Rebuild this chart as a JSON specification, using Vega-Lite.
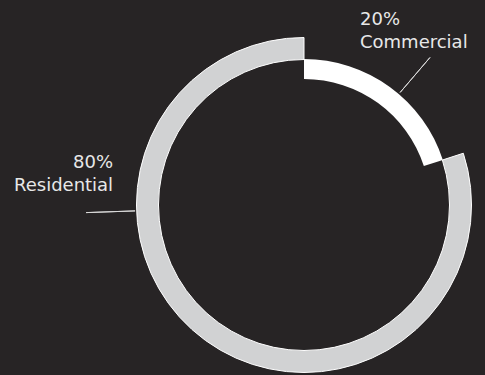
{
  "$schema": "https://vega.github.io/schema/vega-lite/v6.json",
  "width": 362,
  "height": 340,
  "autosize": "none",
  "padding": {"left": 123, "top": 35, "right": 0, "bottom": 0},
  "background": "#272425",
  "config": {"view": {"stroke": null}},
  "data": {
    "values": [
      {"segment": "Commercial", "share": 20},
      {"segment": "Residential", "share": 80}
    ]
  },
  "transform": [
    {"stack": "share", "groupby": [], "sort": [{"field": "segment", "order": "ascending"}], "as": ["v0", "v1"]},
    {"calculate": "(datum.v0 + datum.v1) / 2", "as": "mid"},
    {"calculate": "[datum.share + '%', datum.segment]", "as": "label"}
  ],
  "layer": [
    {
      "transform": [{"filter": "datum.segment === 'Residential'"}],
      "mark": {"type": "arc", "radius": 167.5, "radius2": 145.5, "fill": "#d1d2d3", "stroke": "#ffffff", "strokeWidth": 1},
      "encoding": {
        "theta": {"field": "v0", "type": "quantitative", "scale": {"domain": [0, 100], "range": [0, 6.283185307179586]}},
        "theta2": {"field": "v1"}
      }
    },
    {
      "transform": [{"filter": "datum.segment === 'Commercial'"}],
      "mark": {"type": "arc", "radius": 146, "radius2": 126, "fill": "#ffffff"},
      "encoding": {
        "theta": {"field": "v0", "type": "quantitative", "scale": {"domain": [0, 100], "range": [0, 6.283185307179586]}},
        "theta2": {"field": "v1"}
      }
    },
    {
      "transform": [{"filter": "datum.segment === 'Commercial'"}],
      "encoding": {
        "theta": {"field": "mid", "type": "quantitative", "scale": {"domain": [0, 100], "range": [0.0785, 6.3617]}}
      },
      "layer": [
        {
          "mark": {"type": "arc", "radius": 194, "radius2": 148, "filled": false, "stroke": "#d9d9d9", "strokeWidth": 1},
          "encoding": {"theta2": {"field": "mid"}}
        },
        {
          "mark": {"type": "text", "radius": 194, "align": "left", "baseline": "alphabetic", "dx": -70, "dy": -32.5, "lineHeight": 23, "font": "DejaVu Sans", "fontSize": 18, "fill": "#e8e8e8"},
          "encoding": {"text": {"field": "label"}}
        }
      ]
    },
    {
      "transform": [{"filter": "datum.segment === 'Residential'"}],
      "encoding": {
        "theta": {"field": "mid", "type": "quantitative", "scale": {"domain": [0, 100], "range": [0.9076, 7.1908]}}
      },
      "layer": [
        {
          "mark": {"type": "arc", "radius": 218, "radius2": 169, "filled": false, "stroke": "#d9d9d9", "strokeWidth": 1},
          "encoding": {"theta2": {"field": "mid"}}
        },
        {
          "mark": {"type": "text", "radius": 218, "align": "right", "baseline": "alphabetic", "dx": 27, "dy": -45, "lineHeight": 23, "font": "DejaVu Sans", "fontSize": 18, "fill": "#e8e8e8"},
          "encoding": {"text": {"field": "label"}}
        }
      ]
    }
  ],
  "resolve": {"scale": {"theta": "independent"}}
}
